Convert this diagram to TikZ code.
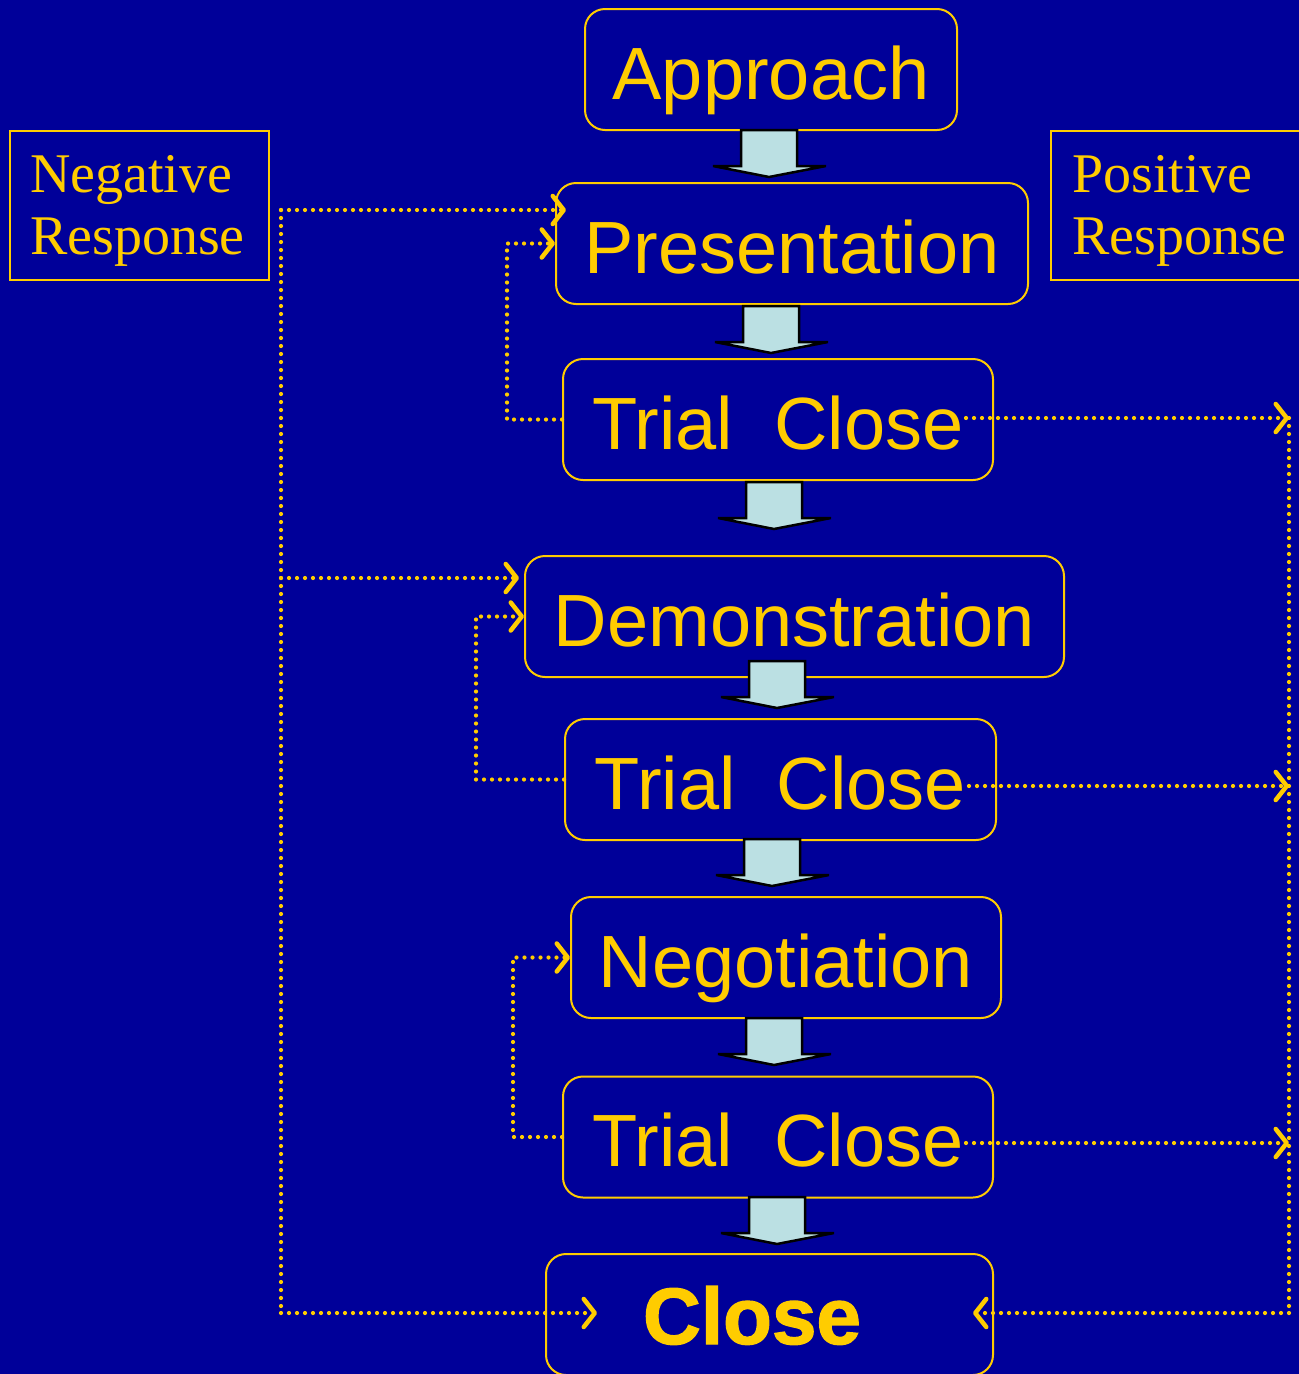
\documentclass[tikz,border=0pt]{standalone}
\usepackage{fontspec}
\setmainfont{Liberation Serif}
\newfontfamily\sansf{Liberation Sans}
\newfontfamily\closef{Liberation Sans}[BoldFeatures={FakeBold=1.6}]
\usetikzlibrary{arrows.meta}
\definecolor{bgblue}{RGB}{0,0,153}
\definecolor{gold}{RGB}{255,204,0}
\definecolor{arrowfill}{RGB}{187,224,227}
\newcommand\blkarrow[2]{%
  \draw[blk] ({#1-28},{#2}) -- ({#1+28},{#2}) -- ({#1+28},{#2+36}) -- ({#1+57},{#2+36})
    -- ({#1},{#2+47}) -- ({#1-56},{#2+36}) -- ({#1-28},{#2+36}) -- cycle;}
\begin{document}
\begin{tikzpicture}[x=1pt,y=-1pt,
  mbox/.style={draw=gold, line width=2pt, rounded corners=20pt, minimum height=121pt,
    text height=59pt, text depth=0pt, inner sep=0pt, text=gold,
    font=\sansf\fontsize{74}{88}\selectfont},
  rbox/.style={draw=gold, line width=2pt, inner sep=0pt, minimum height=149pt},
  rtext/.style={text=gold, align=left, inner sep=0pt, font=\fontsize{56}{62}\selectfont},
  blk/.style={fill=arrowfill, draw=black, line width=2.5pt, line join=miter},
  dotl/.style={draw=gold, line width=4.2pt, dash pattern=on 0pt off 8pt, line cap=round},
  tip/.style={-{Straight Barb[length=11pt,width=28pt,round,line width=4.5pt]}}
]
\fill[bgblue] (0,0) rectangle (1299,1374);
\useasboundingbox (0,0) rectangle (1299,1374);
\clip (0,0) rectangle (1299,1374);

% response boxes
\node[rbox, minimum width=259pt, anchor=north west] (negr) at (9,130) {};
\node[rtext, anchor=north west] (negt) at (30,155) {Negative\\Response};
\node[rbox, minimum width=262pt, anchor=north west] (posr) at (1050,130) {};
\node[rtext, anchor=north west] (post) at (1072,155) {Positive\\Response};

% main boxes
\node[mbox, minimum width=372pt] (app)   at (771,69.5)    {Approach};
\node[mbox, minimum width=472pt] (pres)  at (792,243.5)   {Presentation};
\node[mbox, minimum width=430pt] (tc1)   at (778,419.5)   {Trial\ \ Close};
\node[mbox, minimum width=539pt] (demo)  at (794.5,616.5) {Demonstration};
\node[mbox, minimum width=431pt] (tc2)   at (780.5,779.5) {Trial\ \ Close};
\node[mbox, minimum width=430pt] (nego)  at (786,957.5)   {Negotiation};
\node[mbox, minimum width=430pt] (tc3)   at (778,1137)    {Trial\ \ Close};
\node[mbox, minimum width=447pt, font=\closef\bfseries\fontsize{80}{90}\selectfont]
     (close) at (769.5,1314.5) {Close\hspace*{35pt}};

% block arrows
\blkarrow{769}{130}
\blkarrow{771}{306}
\blkarrow{774}{482}
\blkarrow{777}{661}
\blkarrow{772}{839}
\blkarrow{774}{1018}
\blkarrow{777}{1197}

% negative response lines
\coordinate (L1) at (281,210);
\coordinate (L3) at (281,578);
\coordinate (L2) at (281,1313);
\draw[dotl] (L1) -- (L2);
\draw[dotl,tip] (L1) -- ([xshift=11pt]pres.west |- L1);
\draw[dotl,tip] (L3) -- ([xshift=-5pt]demo.west |- L3);
\draw[dotl,tip] (L2) -- ([xshift=52pt]close.west |- L2);

% loop backs
\draw[dotl,tip] (tc1.west) -- ++(-55,0) |- (pres.west);
\draw[dotl,tip] (tc2.west) -- ++(-88,0) |- (demo.west);
\draw[dotl,tip] (tc3.west) -- ++(-49,0) |- (nego.west);

% positive response lines
\coordinate (R1) at (1289,418);
\coordinate (R2) at (1289,786);
\coordinate (R3) at (1289,1143);
\coordinate (R4) at (1289,1313);
\draw[dotl] (R1) -- (R4);
\draw[dotl,tip] ([xshift=-28pt]tc1.east |- R1) -- (R1);
\draw[dotl,tip] ([xshift=-28pt]tc2.east |- R2) -- (R2);
\draw[dotl,tip] ([xshift=-28pt]tc3.east |- R3) -- (R3);
\draw[dotl,tip] (R4) -- ([xshift=-21pt]close.east |- R4);
\end{tikzpicture}
\end{document}
